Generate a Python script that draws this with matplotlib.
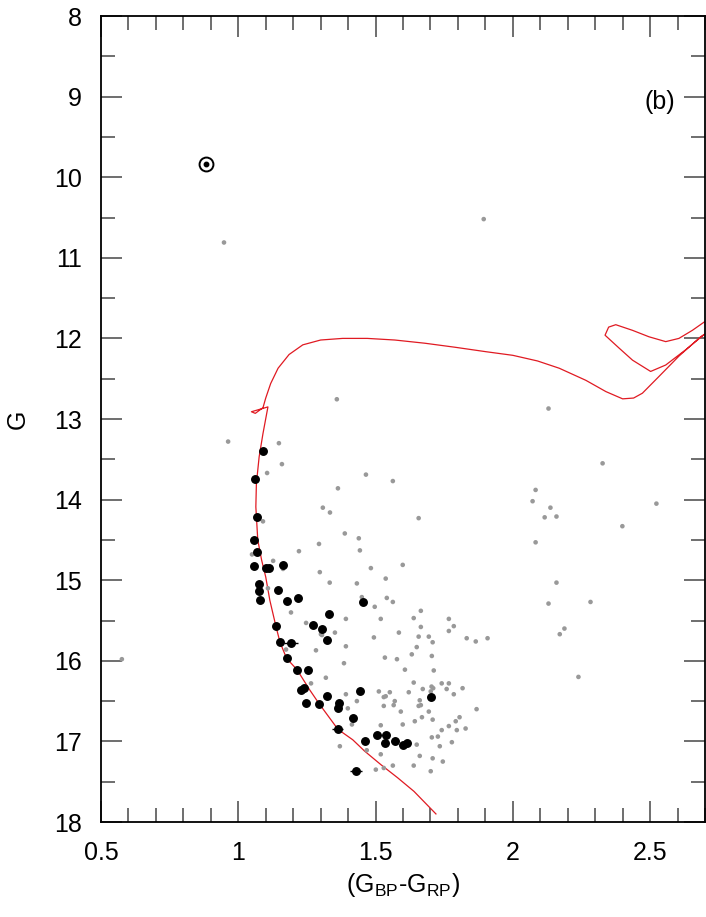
import matplotlib
matplotlib.use('Agg')
import matplotlib.pyplot as plt
from matplotlib.ticker import MultipleLocator

plt.rcParams['font.family'] = ['Liberation Sans', 'DejaVu Sans']
plt.rcParams['mathtext.fontset'] = 'custom'
plt.rcParams['mathtext.rm'] = 'Liberation Sans'
plt.rcParams['mathtext.it'] = 'Liberation Sans'

# cluster members (colour, G, colour error)
mem_bprp = [1.091, 1.061, 1.068, 1.058, 1.068, 1.058, 1.100, 1.112, 1.164, 1.076,
            1.076, 1.079, 1.145, 1.177, 1.218, 1.454, 1.330, 1.272, 1.305, 1.323,
            1.137, 1.152, 1.192, 1.176, 1.214, 1.254, 1.228, 1.238, 1.323, 1.443,
            1.247, 1.294, 1.368, 1.363, 1.417, 1.363, 1.506, 1.537, 1.701, 1.461,
            1.534, 1.570, 1.599, 1.615, 1.428]
mem_g = [13.40, 13.75, 14.21, 14.50, 14.65, 14.83, 14.85, 14.85, 14.815, 15.05,
         15.14, 15.24, 15.125, 15.26, 15.22, 15.27, 15.42, 15.55, 15.60, 15.745,
         15.57, 15.77, 15.78, 15.97, 16.11, 16.12, 16.36, 16.34, 16.44, 16.38,
         16.52, 16.53, 16.52, 16.59, 16.71, 16.85, 16.92, 16.92, 16.45, 17.00,
         17.02, 17.00, 17.05, 17.02, 17.37]
mem_err = [0.004, 0.004, 0.004, 0.005, 0.005, 0.005, 0.006, 0.006, 0.006, 0.006,
           0.006, 0.006, 0.006, 0.007, 0.007, 0.007, 0.008, 0.008, 0.008, 0.008,
           0.008, 0.008, 0.025, 0.009, 0.009, 0.009, 0.010, 0.010, 0.010, 0.010,
           0.011, 0.011, 0.011, 0.011, 0.012, 0.020, 0.013, 0.013, 0.012, 0.013,
           0.014, 0.014, 0.014, 0.014, 0.022]

# field stars
fld_bprp = [0.948, 1.894, 1.359, 2.130, 0.963, 1.148, 1.159, 2.327, 1.105, 1.465,
            1.563, 1.363, 2.083, 2.072, 2.523, 1.308, 2.137, 1.334, 2.116, 2.159,
            1.657, 1.090, 2.399, 1.388, 1.439, 2.083, 1.294, 1.443, 1.221, 1.050,
            1.127, 1.599, 1.483, 1.163, 1.297, 1.537, 1.432, 1.333, 2.159, 1.108,
            1.450, 1.541, 1.563, 2.130, 2.283, 1.497, 1.665, 1.192, 1.392, 1.519,
            1.639, 1.767, 1.247, 1.785, 1.665, 2.188, 1.767, 1.352, 1.585, 0.576,
            2.171, 1.301, 1.305, 1.494, 1.657, 1.694, 1.832, 1.908, 1.708, 1.865,
            1.392, 1.650, 1.174, 1.283, 1.632, 1.705, 1.534, 1.578, 1.385, 1.607,
            1.712, 2.239, 1.319, 1.639, 1.265, 1.741, 1.767, 1.704, 1.710, 1.672,
            1.759, 1.817, 1.512, 1.552, 1.621, 1.701, 1.785, 1.392, 1.530, 1.537,
            1.432, 1.570, 1.661, 1.530, 1.566, 1.592, 1.657, 1.665, 1.694, 1.868,
            1.399, 1.806, 1.792, 1.669, 1.643, 1.708, 1.414, 1.519, 1.599, 1.767,
            1.828, 1.796, 1.741, 1.727, 1.705, 1.778, 1.650, 1.734, 1.370, 1.468,
            1.519, 1.661, 1.708, 1.745, 1.563, 1.639, 1.501, 1.530, 1.701]
fld_g = [10.81, 10.52, 12.755, 12.87, 13.28, 13.30, 13.56, 13.55, 13.67, 13.69,
         13.77, 13.86, 13.88, 14.02, 14.05, 14.10, 14.10, 14.16, 14.22, 14.21,
         14.23, 14.27, 14.33, 14.42, 14.48, 14.53, 14.55, 14.63, 14.64, 14.68,
         14.76, 14.81, 14.85, 14.86, 14.90, 14.98, 15.04, 15.03, 15.03, 15.10,
         15.21, 15.22, 15.27, 15.29, 15.27, 15.33, 15.38, 15.40, 15.48, 15.48,
         15.47, 15.48, 15.53, 15.57, 15.58, 15.60, 15.63, 15.65, 15.65, 15.98,
         15.67, 15.67, 15.68, 15.71, 15.70, 15.70, 15.72, 15.72, 15.77, 15.76,
         15.82, 15.83, 15.86, 15.87, 15.92, 15.94, 15.96, 15.98, 16.03, 16.11,
         16.12, 16.20, 16.21, 16.27, 16.28, 16.28, 16.28, 16.32, 16.34, 16.35,
         16.35, 16.34, 16.38, 16.39, 16.39, 16.38, 16.415, 16.415, 16.45, 16.44,
         16.50, 16.50, 16.49, 16.56, 16.55, 16.63, 16.56, 16.55, 16.63, 16.60,
         16.59, 16.70, 16.75, 16.70, 16.75, 16.73, 16.79, 16.80, 16.79, 16.81,
         16.84, 16.86, 16.86, 16.94, 16.95, 17.01, 17.04, 17.06, 17.06, 17.11,
         17.16, 17.18, 17.21, 17.25, 17.30, 17.30, 17.35, 17.33, 17.37]

# bright star marked with the sun symbol
sun_bprp = [0.881]
sun_g = [9.84]

# isochrone
iso_bprp = [1.72, 1.64, 1.58, 1.52, 1.46, 1.417, 1.363, 1.294, 1.26, 1.214,
            1.176, 1.152, 1.137, 1.115, 1.10, 1.085, 1.071, 1.064, 1.066, 1.076,
            1.090, 1.108, 1.048, 1.062, 1.090, 1.100, 1.118, 1.145, 1.185, 1.235,
            1.300, 1.380, 1.470, 1.570, 1.680, 1.790, 1.902, 2.0, 2.090, 2.169,
            2.266, 2.339, 2.40, 2.44, 2.472, 2.533, 2.605, 2.684, 2.72,
            2.72, 2.694, 2.63, 2.557, 2.502, 2.436, 2.387, 2.339, 2.336, 2.349,
            2.375, 2.436, 2.496, 2.557, 2.605, 2.654, 2.70, 2.75]
iso_g = [17.90, 17.62, 17.45, 17.29, 17.12, 16.98, 16.85, 16.53, 16.36, 16.11,
         15.97, 15.77, 15.57, 15.25, 14.96, 14.75, 14.50, 14.09, 13.80, 13.47,
         13.18, 12.85, 12.91, 12.93, 12.86, 12.74, 12.56, 12.37, 12.20, 12.08,
         12.02, 12.00, 12.00, 12.02, 12.06, 12.11, 12.165, 12.21, 12.28, 12.37,
         12.52, 12.66, 12.75, 12.74, 12.68, 12.47, 12.22, 11.98, 11.90,
         11.92, 11.96, 12.14, 12.33, 12.41, 12.27, 12.12, 11.97, 11.96, 11.86,
         11.83, 11.90, 11.98, 12.04, 12.00, 11.90, 11.79, 11.68]

fig = plt.figure(figsize=(7.06, 9.17), dpi=100)
ax = fig.add_axes([101 / 706, 1 - 822 / 917, 604 / 706, 806 / 917])

ax.plot(iso_bprp, iso_g, color='#e01a22', lw=0.9, zorder=2)
ax.scatter(fld_bprp, fld_g, s=11, color='#999999', edgecolors='none', zorder=3)
ax.errorbar(mem_bprp, mem_g, xerr=mem_err, fmt='o', color='black', ms=5.4,
            elinewidth=1.0, capsize=0, zorder=4)
ax.plot(sun_bprp, sun_g, 'o', mfc='white', mec='black', ms=10, mew=1.4, zorder=5)
ax.plot(sun_bprp, sun_g, 'o', color='black', ms=3.2, zorder=6)

ax.set_xlim(0.5, 2.7)
ax.set_ylim(18, 8)
ax.xaxis.set_major_locator(MultipleLocator(0.5))
ax.xaxis.set_minor_locator(MultipleLocator(0.1))
ax.yaxis.set_major_locator(MultipleLocator(1))
ax.yaxis.set_minor_locator(MultipleLocator(0.5))
ax.set_xticks([0.5, 1, 1.5, 2, 2.5])
ax.set_xticklabels(['0.5', '1', '1.5', '2', '2.5'])

ax.tick_params(which='both', direction='in', top=True, right=True,
               labelsize=18, pad=14, color='#555555', width=1.2)
ax.tick_params(which='major', length=15)
ax.tick_params(which='minor', length=10)
for sp in ax.spines.values():
    sp.set_linewidth(1.3)

ax.set_xlabel(r'(G$_\mathregular{BP}$-G$_\mathregular{RP}$)', fontsize=18, labelpad=4)
ax.set_ylabel('G', fontsize=18, labelpad=17)
ax.text(0.925, 0.893, '(b)', transform=ax.transAxes, fontsize=18,
        ha='center', va='center')

fig.savefig('out.png', dpi=100)
